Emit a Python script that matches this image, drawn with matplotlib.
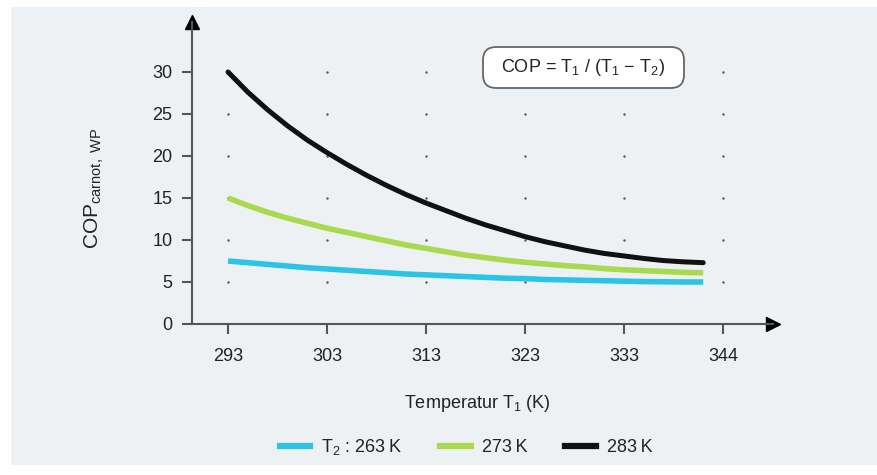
import matplotlib
matplotlib.use("Agg")
import matplotlib.pyplot as plt
from matplotlib.patches import Rectangle, FancyBboxPatch
from matplotlib.lines import Line2D

plt.rcParams['font.family'] = ['Liberation Sans', 'DejaVu Sans']
plt.rcParams['mathtext.fontset'] = 'custom'
plt.rcParams['mathtext.rm'] = 'Liberation Sans'
plt.rcParams['mathtext.it'] = 'Liberation Sans'
plt.rcParams['mathtext.default'] = 'rm'

# values (every 2 K)
t1 = [293, 295, 297, 299, 301, 303, 305, 307, 309, 311, 313, 315, 317,
      319, 321, 323, 325, 327, 329, 331, 333, 335, 337, 339, 341]
cop_263 = [7.5, 7.3, 7.1, 6.9, 6.7, 6.55, 6.4, 6.25, 6.1, 5.95, 5.85, 5.75, 5.65,
           5.55, 5.45, 5.4, 5.3, 5.25, 5.2, 5.15, 5.1, 5.05, 5.03, 5.0, 5.0]
cop_273 = [15.0, 14.1, 13.3, 12.6, 12.0, 11.4, 10.9, 10.4, 9.9, 9.4, 9.0, 8.6, 8.2,
           7.9, 7.6, 7.35, 7.15, 6.95, 6.8, 6.6, 6.45, 6.35, 6.25, 6.15, 6.1]
cop_283 = [30.0, 27.6, 25.5, 23.6, 21.9, 20.4, 19.0, 17.7, 16.5, 15.4, 14.4, 13.5, 12.6,
           11.8, 11.1, 10.4, 9.8, 9.3, 8.8, 8.4, 8.1, 7.8, 7.55, 7.4, 7.3]

x_ticks = [293, 303, 313, 323, 333, 343]
x_tick_labels = ['293', '303', '313', '323', '333', '344']
y_ticks = [0, 5, 10, 15, 20, 25, 30]

W, H = 878, 475
fig = plt.figure(figsize=(W / 100, H / 100), dpi=100)
fig.patch.set_facecolor('white')
fig.patches.append(Rectangle((11 / W, 10 / H), 1 - 11 / W, (465 - 7) / H,
                             transform=fig.transFigure, facecolor='#eef1f3',
                             edgecolor='none', zorder=-5))

ax = fig.add_axes([192 / W, (H - 324) / H, (773 - 192) / W, (324 - 22) / H])
ax.set_facecolor('none')
ax.set_xlim(289.36, 348.05)
ax.set_ylim(0, 35.95)

# dotted grid at tick intersections
gx = [x for x in x_ticks for y in y_ticks[1:]]
gy = [y for x in x_ticks for y in y_ticks[1:]]
ax.scatter(gx, gy, s=3, color='#555555', zorder=1, linewidths=0)

ax.plot(t1, cop_263, color='#2cc4e6', lw=4.0, solid_capstyle='butt', zorder=3)
ax.plot(t1, cop_273, color='#a8d94f', lw=4.0, solid_capstyle='butt', zorder=3)
ax.plot(t1, cop_283, color='#111111', lw=3.6, solid_capstyle='round', zorder=4)

for s in ['top', 'right']:
    ax.spines[s].set_visible(False)
for s in ['left', 'bottom']:
    ax.spines[s].set_color('#555555')
    ax.spines[s].set_linewidth(1.5)

# arrow heads
ax.plot(1, 0, '>', color='black', markersize=10, transform=ax.transAxes, clip_on=False)
ax.plot(0, 1, '^', color='black', markersize=10, transform=ax.transAxes, clip_on=False)

ax.set_xticks(x_ticks)
ax.set_xticklabels(x_tick_labels)
ax.set_yticks(y_ticks)
ax.tick_params(axis='both', colors='#555555', width=1.5, length=7, labelsize=13,
               labelcolor='#222222')
ax.tick_params(axis='x', pad=10)
ax.tick_params(axis='y', pad=7)

fig.text(94 / W, 1 - 188 / H, r'COP$_{\mathrm{carnot,\ WP}}$', rotation=90,
         ha='center', va='center', fontsize=15, color='#222222')
fig.text(477 / W, 1 - 404 / H, r'Temperatur T$_1$ (K)', ha='center', va='center',
         fontsize=13, color='#222222')

# formula box
box = FancyBboxPatch((483 / W, 1 - 88 / H), (684 - 483) / W, (88 - 47) / H,
                     boxstyle='round,pad=0,rounding_size=0.015',
                     transform=fig.transFigure, facecolor='white',
                     edgecolor='#666666', lw=1.3, zorder=5,
                     mutation_aspect=W / H)
fig.patches.append(box)
fig.text(583 / W, 1 - 68 / H, r'COP = T$_1$ / (T$_1$ $-$ T$_2$)', ha='center',
         va='center', fontsize=13, color='#222222', zorder=6)

handles = [Line2D([], [], color='#2cc4e6', lw=4.5),
           Line2D([], [], color='#a8d94f', lw=4.5),
           Line2D([], [], color='#111111', lw=4.5)]
labels = ['T$_2$ : 263\u2009K', '273\u2009K', '283\u2009K']
fig.legend(handles, labels, loc='center', bbox_to_anchor=(466 / W, 1 - 447 / H),
           ncol=3, frameon=False, fontsize=13, handlelength=1.7,
           handletextpad=0.6, columnspacing=2.1, labelcolor='#222222')

fig.savefig('out.png', dpi=100, facecolor=fig.get_facecolor())
